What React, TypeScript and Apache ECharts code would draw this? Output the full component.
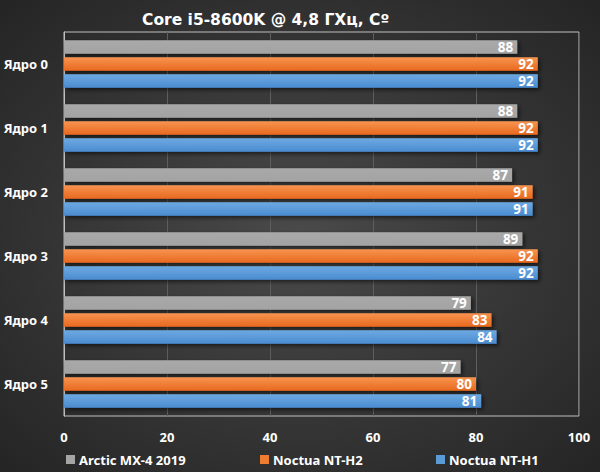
import React, { useEffect, useRef } from "react";
import * as echarts from "echarts";

const categories = ["Ядро 0", "Ядро 1", "Ядро 2", "Ядро 3", "Ядро 4", "Ядро 5"];
const seriesNames = ["Arctic MX-4 2019", "Noctua NT-H2", "Noctua NT-H1"];
const arcticValues = [88, 88, 87, 89, 79, 77];
const nth2Values = [92, 92, 91, 92, 83, 80];
const nth1Values = [92, 92, 91, 92, 84, 81];
const xTicks = { min: 0, max: 100, interval: 20 };
const titleText = "Core i5-8600K @ 4,8 ГХц, Сº";

const FONT = "Noto Sans";

export default function App() {
  const ref = useRef<HTMLDivElement>(null);
  useEffect(() => {
    if (!ref.current) return;
    const chart = echarts.init(ref.current, null, { renderer: "svg" });
    const lin = (a: string, b: string) =>
      new echarts.graphic.LinearGradient(0, 0, 0, 1, [
        { offset: 0, color: a },
        { offset: 1, color: b },
      ]);
    const colors = [
      lin("#a9a9a9", "#a3a3a3"),
      lin("#f79451", "#e8691d"),
      lin("#6eaae2", "#4a8bd0"),
    ];
    const legendColors = ["#a5a5a5", "#ed7d31", "#5b9bd5"];
    const values = [arcticValues, nth2Values, nth1Values];
    const legendLeft = [66, 260, 436];
    chart.setOption({
      animation: false,
      backgroundColor: new echarts.graphic.RadialGradient(0.5, 0.5, 0.75, [
        { offset: 0, color: "#4a4a4a" },
        { offset: 1, color: "#222222" },
      ]),
      textStyle: { fontFamily: FONT },
      title: {
        text: titleText,
        left: 137,
        top: 7,
        textStyle: { color: "#ffffff", fontSize: 15.5, fontWeight: "bold", fontFamily: "DejaVu Sans" },
      },
      legend: seriesNames.map((n, i) => ({
        data: [{ name: n, itemStyle: { color: legendColors[i] } }],
        left: legendLeft[i],
        top: 453,
        padding: 0,
        icon: "rect",
        itemWidth: 9,
        itemHeight: 9,
        itemGap: 0,
        textStyle: { color: "#ffffff", fontSize: 13, fontWeight: "bold", fontFamily: FONT, padding: [0, 0, 0, -1] },
      })),
      grid: {
        left: 64,
        right: 21,
        top: 32,
        bottom: 56,
        show: true,
        borderColor: "#c0c0c0",
        borderWidth: 1,
        backgroundColor: "transparent",
      },
      xAxis: {
        type: "value",
        min: xTicks.min,
        max: xTicks.max,
        interval: xTicks.interval,
        axisLine: { show: false },
        axisTick: { show: false },
        axisLabel: { color: "#ffffff", fontSize: 13, fontWeight: "bold", margin: 14, fontFamily: FONT },
        splitLine: { show: true, lineStyle: { color: "#5e5e5e", width: 1 } },
      },
      yAxis: {
        type: "category",
        data: categories,
        inverse: true,
        axisLine: { show: true, lineStyle: { color: "#c0c0c0" } },
        axisTick: { show: false },
        axisLabel: { color: "#ffffff", fontSize: 13, fontWeight: "bold", margin: 16, fontFamily: FONT },
        splitLine: { show: false },
      },
      series: seriesNames.map((n, i) => ({
        name: n,
        type: "bar",
        data: values[i],
        barGap: "26%",
        barCategoryGap: "26%",
        itemStyle: {
          color: colors[i],
          shadowColor: "rgba(0,0,0,0.6)",
          shadowBlur: 4,
          shadowOffsetX: 2,
          shadowOffsetY: 2,
        },
        label: {
          show: true,
          position: "insideRight",
          distance: 4,
          color: "#ffffff",
          fontSize: 13.5,
          lineHeight: 13,
          fontWeight: "bold",
          fontFamily: FONT,
        },
      })),
    });
    return () => chart.dispose();
  }, []);
  return <div ref={ref} style={{ width: 600, height: 472, position: "absolute", left: 0, top: 0 }} />;
}
